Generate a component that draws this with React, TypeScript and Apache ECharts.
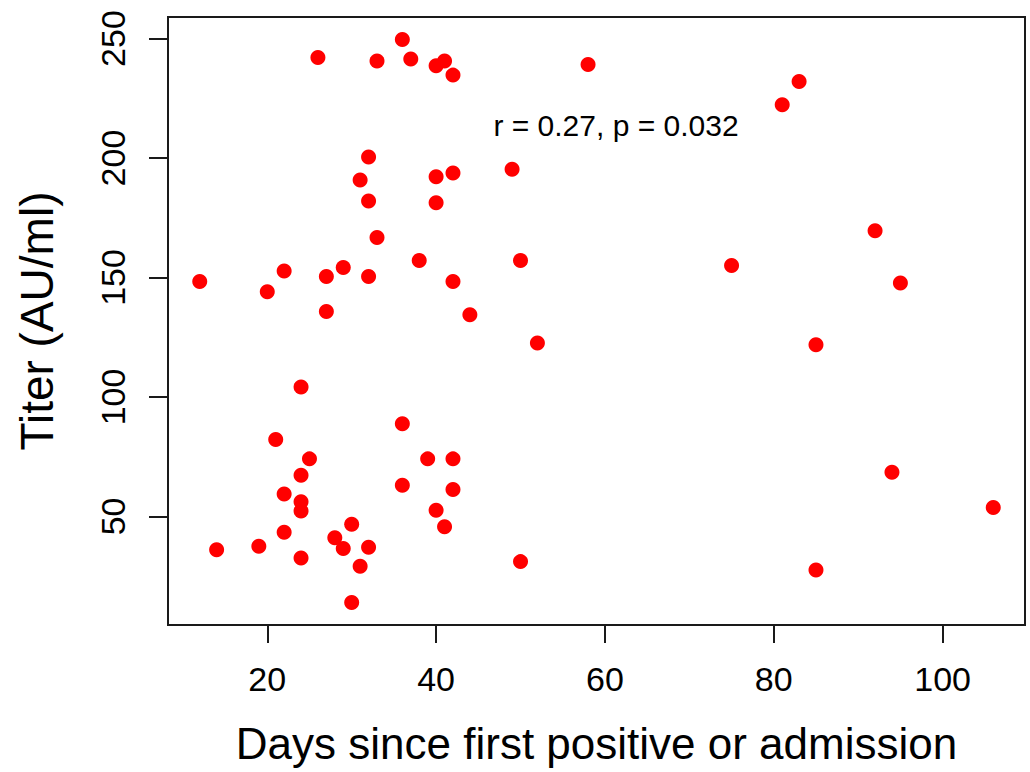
import React, { useEffect, useRef } from "react";
import * as echarts from "echarts";

const days = [
  26, 36, 33, 37, 40, 41, 42, 32, 31, 40, 42, 32, 40, 33, 12, 20, 22, 27, 29, 32, 38, 42, 27, 44,
  58, 83, 81, 49, 50, 75, 92, 95,
  52, 85, 94, 106, 50, 85,
  24, 21, 25, 24, 22, 24, 24, 22, 14, 19, 24, 28, 29, 30, 32, 31, 30, 36, 36, 39, 42, 42, 40, 41,
];
const titer = [
  242.1, 249.6, 240.6, 241.4, 238.6, 240.6, 234.7, 200.4, 190.8, 192.2, 193.7, 182, 181.3, 166.7, 148.3, 144, 152.7, 150.4, 154.2, 150.4, 157.1, 148.3, 135.8, 134.4,
  239.1, 232, 222.3, 195.3, 157.1, 155, 169.6, 147.7,
  122.6, 121.9, 68.5, 53.7, 31.1, 27.6,
  104.2, 82.2, 74.1, 67.2, 59.4, 56.2, 52.3, 43.4, 36.1, 37.5, 32.6, 41.1, 36.6, 46.7, 37.1, 29.2, 14, 88.8, 63.1, 74.1, 74.1, 61.3, 52.6, 45.7,
];
const xTicks = [20, 40, 60, 80, 100];
const yTicks = [50, 100, 150, 200, 250];
const xTitle = "Days since first positive or admission";
const yTitle = "Titer (AU/ml)";
const annotation = "r = 0.27, p = 0.032";

function extend(vals: number[]): [number, number] {
  const lo = Math.min(...vals);
  const hi = Math.max(...vals);
  const pad = (hi - lo) * 0.04;
  return [lo - pad, hi + pad];
}

const FONT = '"Liberation Sans", Arial, Helvetica, sans-serif';

export default function App() {
  const ref = useRef<HTMLDivElement>(null);
  useEffect(() => {
    if (!ref.current) return;
    const chart = echarts.init(ref.current, undefined, { renderer: "svg" });
    const [xMin, xMax] = extend(days);
    const [yMin, yMax] = extend(titer);
    const axisLine = { show: true, lineStyle: { color: "#1a1a1a", width: 2 } };
    chart.setOption({
      animation: false,
      backgroundColor: "#ffffff",
      textStyle: { fontFamily: FONT },
      grid: {
        left: 168,
        top: 17,
        right: 5,
        bottom: 147,
        outerBoundsMode: "none",
        containLabel: false,
        show: true,
        borderColor: "#1a1a1a",
        borderWidth: 2,
        backgroundColor: "transparent",
      },
      xAxis: {
        type: "value",
        min: xMin,
        max: xMax,
        splitLine: { show: false },
        axisLine,
        axisTick: {
          show: true,
          inside: false,
          length: 18,
          customValues: xTicks,
          lineStyle: { color: "#1a1a1a", width: 2 },
        },
        axisLabel: {
          customValues: xTicks,
          color: "#000",
          fontSize: 34,
          fontFamily: FONT,
          margin: 37,
        },
        name: xTitle,
        nameLocation: "middle",
        nameGap: 96,
        nameTextStyle: { color: "#000", fontSize: 44, fontFamily: FONT, lineHeight: 44 },
      },
      yAxis: {
        type: "value",
        min: yMin,
        max: yMax,
        splitLine: { show: false },
        axisLine,
        axisTick: {
          show: true,
          inside: false,
          length: 19,
          customValues: yTicks,
          lineStyle: { color: "#1a1a1a", width: 2 },
        },
        axisLabel: {
          customValues: yTicks,
          color: "#000",
          fontSize: 34,
          fontFamily: FONT,
          rotate: 90,
          margin: 38,
        },
        name: yTitle,
        nameLocation: "middle",
        nameGap: 108,
        nameRotate: 90,
        nameTextStyle: { color: "#000", fontSize: 46, fontFamily: FONT },
      },
      graphic: [
        {
          type: "text",
          x: 616,
          y: 125,
          style: {
            text: annotation,
            fill: "#000",
            fontSize: 30,
            fontFamily: FONT,
            textAlign: "center",
            textVerticalAlign: "middle",
          },
        },
      ],
      series: [
        {
          type: "scatter",
          data: days.map((d, i) => [d, titer[i]]),
          symbol: "circle",
          symbolSize: 15,
          itemStyle: { color: "#ff0000", opacity: 1 },
        },
      ],
    });
    return () => chart.dispose();
  }, []);
  return (
    <div
      ref={ref}
      style={{ position: "fixed", left: 0, top: 0, width: 1030, height: 772, background: "#fff" }}
    />
  );
}
